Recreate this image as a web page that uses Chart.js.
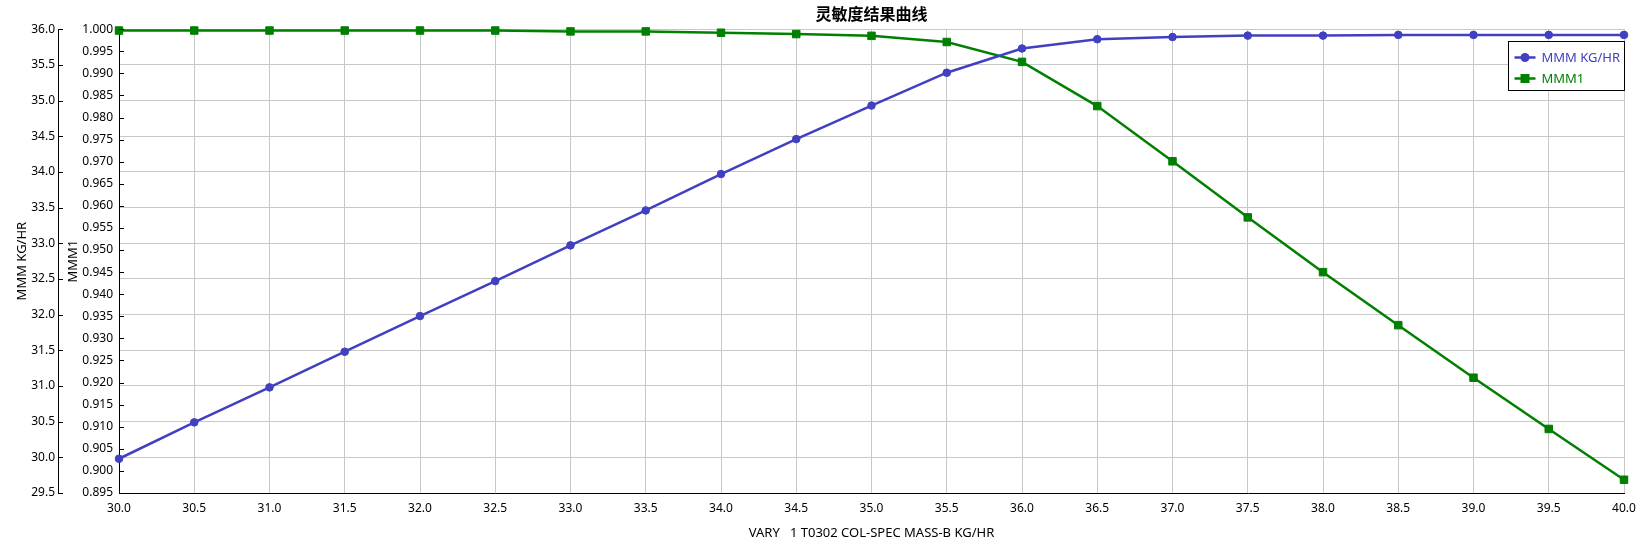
<!DOCTYPE html>
<html>
<head>
<meta charset="utf-8">
<title>灵敏度结果曲线</title>
<script src="https://cdn.jsdelivr.net/npm/chart.js@4.4.1/dist/chart.umd.min.js"></script>
<style>
  html, body { margin: 0; padding: 0; background: #fff; }
  #wrap { width: 1645px; height: 543px; position: relative; }
</style>
</head>
<body>
<div id="wrap"><canvas id="sensChart"></canvas></div>
<script>
// Values
const xValues = [30.0, 30.5, 31.0, 31.5, 32.0, 32.5, 33.0, 33.5, 34.0, 34.5, 35.0,
                 35.5, 36.0, 36.5, 37.0, 37.5, 38.0, 38.5, 39.0, 39.5, 40.0];
// MMM KG/HR (outer left axis)
const massValues = [29.98, 30.49, 30.98, 31.48, 31.98, 32.47, 32.97, 33.46, 33.97, 34.46, 34.93,
                    35.39, 35.73, 35.86, 35.89, 35.91, 35.91, 35.92, 35.92, 35.92, 35.92];
// MMM1 (inner left axis)
const mmm1Values = [0.9997, 0.9997, 0.9997, 0.9997, 0.9997, 0.9997, 0.9995, 0.9995, 0.9992, 0.9989, 0.9985,
                    0.9971, 0.9926, 0.9826, 0.9701, 0.9574, 0.9450, 0.9330, 0.9211, 0.9095, 0.8980];

// tick labels
const xTicks = [30.0, 30.5, 31.0, 31.5, 32.0, 32.5, 33.0, 33.5, 34.0, 34.5, 35.0,
                35.5, 36.0, 36.5, 37.0, 37.5, 38.0, 38.5, 39.0, 39.5, 40.0];
const massTicks = [29.5, 30.0, 30.5, 31.0, 31.5, 32.0, 32.5, 33.0, 33.5, 34.0, 34.5, 35.0, 35.5, 36.0];
const mmm1Ticks = [0.895, 0.900, 0.905, 0.910, 0.915, 0.920, 0.925, 0.930, 0.935, 0.940, 0.945,
                   0.950, 0.955, 0.960, 0.965, 0.970, 0.975, 0.980, 0.985, 0.990, 0.995, 1.000];

const blue = '#4040c0';
const green = '#008000';
const gridColor = '#c8c8c8';

Chart.defaults.font.family = "'Noto Sans', 'DejaVu Sans', sans-serif";
Chart.defaults.font.size = 12;
Chart.defaults.color = '#000';

// skip the first grid line so it doesn't paint over the black axis line
const skipFirst = c => c.index === 0 ? 'rgba(0,0,0,0)' : gridColor;

// small black ticks pointing into the plot, like the original
const inwardTicks = {
  id: 'inwardTicks',
  afterDraw(chart) {
    const ctx = chart.ctx;
    ctx.save();
    ctx.strokeStyle = '#000';
    ctx.lineWidth = 1;
    ['yMass', 'yMmm1'].forEach(id => {
      const s = chart.scales[id];
      s.ticks.forEach(t => {
        const y = Math.round(s.getPixelForValue(t.value)) + 0.5;
        ctx.beginPath();
        ctx.moveTo(s.right, y);
        ctx.lineTo(s.right + 5, y);
        ctx.stroke();
      });
    });
    ctx.restore();
  }
};

// boxed legend inside the top-right corner of the plot
const boxLegend = {
  id: 'boxLegend',
  afterDraw(chart) {
    const ctx = chart.ctx;
    const area = chart.chartArea;
    const w = 116, h = 49;
    const left = Math.round(area.right - w) + 0.5;
    const top = Math.round(area.top + 12) + 0.5;
    ctx.save();
    ctx.fillStyle = '#fff';
    ctx.fillRect(left, top, w, h);
    ctx.strokeStyle = '#000';
    ctx.lineWidth = 1;
    ctx.strokeRect(left, top, w, h);
    ctx.font = "13px 'Noto Sans', sans-serif";
    ctx.textBaseline = 'middle';
    chart.data.datasets.forEach((ds, i) => {
      const y = top + 16 + i * 21;
      ctx.strokeStyle = ds.borderColor;
      ctx.lineWidth = 2.5;
      ctx.beginPath();
      ctx.moveTo(left + 6, y);
      ctx.lineTo(left + 27, y);
      ctx.stroke();
      ctx.fillStyle = ds.borderColor;
      if (ds.pointStyle === 'rect') {
        ctx.fillRect(left + 12, y - 4.5, 9, 9);
      } else {
        ctx.beginPath();
        ctx.arc(left + 16.5, y, 4.5, 0, Math.PI * 2);
        ctx.fill();
      }
      ctx.fillText(ds.label, left + 33, y + 1);
    });
    ctx.restore();
  }
};

const data = {
  datasets: [{
    label: 'MMM KG/HR',
    data: xValues.map((x, i) => ({ x: x, y: massValues[i] })),
    yAxisID: 'yMass',
    borderColor: blue,
    backgroundColor: blue,
    borderWidth: 2.5,
    pointStyle: 'circle',
    pointRadius: 3.8,
    pointBorderWidth: 1,
    clip: false
  }, {
    label: 'MMM1',
    data: xValues.map((x, i) => ({ x: x, y: mmm1Values[i] })),
    yAxisID: 'yMmm1',
    borderColor: green,
    backgroundColor: green,
    borderWidth: 2.5,
    pointStyle: 'rect',
    pointRadius: 5.3,
    pointBorderWidth: 1,
    clip: false
  }]
};

const config = {
  type: 'line',
  data: data,
  plugins: [inwardTicks, boxLegend],
  options: {
    responsive: true,
    maintainAspectRatio: false,
    animation: false,
    events: [],
    layout: { padding: { left: 0, right: 21, top: 0, bottom: 0 } },
    plugins: {
      legend: { display: false },
      tooltip: { enabled: false },
      title: {
        display: true,
        text: '灵敏度结果曲线',
        fullSize: false,
        color: '#000',
        font: { family: "'Noto Sans CJK SC', sans-serif", size: 16, weight: 'bold' },
        padding: { top: 4, bottom: 6 }
      }
    },
    scales: {
      x: {
        type: 'linear',
        min: 30,
        max: 40,
        afterBuildTicks: s => { s.ticks = xTicks.map(v => ({ value: v })); },
        afterFit: s => { s.height = 50; },
        grid: { color: skipFirst, drawTicks: false },
        border: { color: '#000', width: 1 },
        ticks: { autoSkip: false, maxRotation: 0, padding: 8, callback: v => v.toFixed(1) },
        title: {
          display: true,
          text: 'VARY   1 T0302 COL-SPEC MASS-B KG/HR',
          font: { size: 13 },
          padding: { top: 0, bottom: 2 }
        }
      },
      yMass: {
        type: 'linear',
        position: 'left',
        weight: 2,
        min: 29.5,
        max: 36.0,
        afterBuildTicks: s => { s.ticks = massTicks.map(v => ({ value: v })); },
        afterFit: s => { s.width = 58; },
        grid: { color: skipFirst, drawTicks: false },
        border: { color: '#000', width: 1 },
        ticks: { autoSkip: false, padding: 3, callback: v => v.toFixed(1) },
        title: {
          display: true,
          text: 'MMM KG/HR',
          font: { size: 13 },
          padding: { top: 14, bottom: 0 }
        }
      },
      yMmm1: {
        type: 'linear',
        position: 'left',
        weight: 1,
        min: 0.895,
        max: 1.0,
        afterBuildTicks: s => { s.ticks = mmm1Ticks.map(v => ({ value: v })); },
        afterFit: s => { s.width = 61; },
        grid: { drawOnChartArea: false, drawTicks: false },
        border: { color: '#000', width: 1 },
        ticks: { autoSkip: false, padding: 6, callback: v => v.toFixed(3) },
        title: {
          display: true,
          text: 'MMM1',
          font: { size: 13 },
          padding: { top: 7, bottom: 0 }
        }
      }
    }
  }
};

const sensChart = new Chart(document.getElementById('sensChart'), config);
</script>
</body>
</html>
